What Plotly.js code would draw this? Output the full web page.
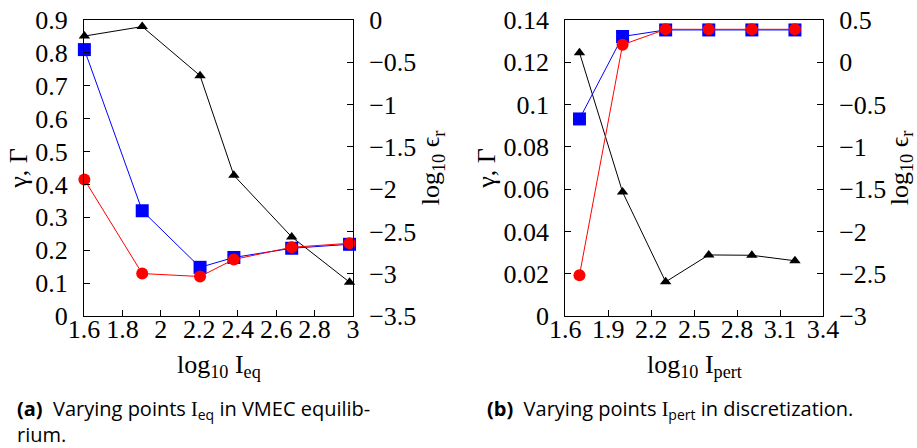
<!DOCTYPE html>
<html>
<head>
<meta charset="utf-8">
<script src="https://cdn.plot.ly/plotly-3.0.1.min.js"></script>
<style>html,body{margin:0;padding:0;background:#fff;}#chart{width:917px;height:448px;}</style>
</head>
<body>
<div id="chart"></div>
<script>
// Panel (a): varying I_eq
const xEq = [1.602, 1.903, 2.204, 2.380, 2.681, 2.982];
const gammaEq = [0.81, 0.32, 0.148, 0.178, 0.206, 0.218];   // blue squares
const GammaEq = [0.415, 0.129, 0.12, 0.172, 0.209, 0.221];  // red circles
const errEq = [-0.19, -0.078, -0.658, -1.837, -2.565, -3.10]; // black triangles (log10 eps_r)

// Panel (b): varying I_pert
const xPert = [1.699, 2.0, 2.301, 2.602, 2.903, 3.204];
const gammaPert = [0.0932, 0.1322, 0.1353, 0.1353, 0.1353, 0.1353];
const GammaPert = [0.0193, 0.1283, 0.1356, 0.1356, 0.1356, 0.1356];
const errPert = [0.114, -1.534, -2.596, -2.278, -2.282, -2.347];

const serif = '"Liberation Serif", "DejaVu Serif", serif';
const tickFont = {family: serif, size: 26, color: '#000'};
const titleFont = {family: serif, size: 26, color: '#000'};
const capFont = {family: '"Open Sans", Lato, sans-serif', size: 20, color: '#000'};

function blackTrace(x, y, xa, ya) {
  return {x: x, y: y, xaxis: xa, yaxis: ya, type: 'scatter', mode: 'lines+markers',
    line: {color: '#000', width: 1}, marker: {symbol: 'triangle-up', size: 10, color: '#000'},
    showlegend: false, cliponaxis: false};
}
function blueTrace(x, y, xa, ya) {
  return {x: x, y: y, xaxis: xa, yaxis: ya, type: 'scatter', mode: 'lines+markers',
    line: {color: '#0000ff', width: 1}, marker: {symbol: 'square', size: 13, color: '#0000ff'},
    showlegend: false, cliponaxis: false};
}
function redTrace(x, y, xa, ya) {
  return {x: x, y: y, xaxis: xa, yaxis: ya, type: 'scatter', mode: 'lines+markers',
    line: {color: '#ff0000', width: 1}, marker: {symbol: 'circle', size: 12, color: '#ff0000'},
    showlegend: false, cliponaxis: false};
}

const data = [
  blackTrace(xEq, errEq, 'x', 'y'),
  blueTrace(xEq, gammaEq, 'x', 'y2'),
  redTrace(xEq, GammaEq, 'x', 'y2'),
  blackTrace(xPert, errPert, 'x2', 'y3'),
  blueTrace(xPert, gammaPert, 'x2', 'y4'),
  redTrace(xPert, GammaPert, 'x2', 'y4')
];

const W = 917, H = 448;
const yDom = [1 - 316 / H, 1 - 20 / H];
const common = {showgrid: false, zeroline: false, showline: true, linecolor: '#000', linewidth: 1,
  ticks: 'inside', ticklen: 6, tickwidth: 1, tickcolor: '#000', tickfont: tickFont, tickangle: 0,
  fixedrange: true};

const layout = {
  width: W, height: H,
  margin: {l: 0, r: 0, t: 0, b: 0},
  paper_bgcolor: '#fff', plot_bgcolor: '#fff',
  showlegend: false,
  xaxis: Object.assign({}, common, {domain: [84 / W, 353 / W], range: [1.6, 3], tick0: 1.6, dtick: 0.2,
    anchor: 'y', mirror: true, ticklabelstandoff: -10}),
  yaxis: Object.assign({}, common, {domain: yDom, range: [-3.5, 0], dtick: 0.5, side: 'right', anchor: 'x',
    ticklabelstandoff: 10,
    title: {text: 'log<sub>10</sub> ϵ<sub>r</sub>', font: titleFont, standoff: 3}}),
  yaxis2: Object.assign({}, common, {range: [0, 0.9], dtick: 0.1, side: 'left', overlaying: 'y', anchor: 'x',
    ticklabelstandoff: 10,
    title: {text: 'γ, Γ', font: titleFont, standoff: 0}}),
  xaxis2: Object.assign({}, common, {domain: [565.3 / W, 823 / W], range: [1.6, 3.4], tick0: 1.6, dtick: 0.3,
    anchor: 'y3', mirror: true, ticklabelstandoff: -10}),
  yaxis3: Object.assign({}, common, {domain: yDom, range: [-3, 0.5], dtick: 0.5, side: 'right', anchor: 'x2',
    ticklabelstandoff: 10,
    title: {text: 'log<sub>10</sub> ϵ<sub>r</sub>', font: titleFont, standoff: 0}}),
  yaxis4: Object.assign({}, common, {range: [0, 0.14], dtick: 0.02, side: 'left', overlaying: 'y3', anchor: 'x2',
    ticklabelstandoff: 10,
    title: {text: 'γ, Γ', font: titleFont, standoff: 0}}),
  annotations: [
    {xref: 'paper', yref: 'paper', x: 218.5 / W, y: 1 - 366 / H, xanchor: 'center', yanchor: 'middle',
     showarrow: false, font: titleFont, text: 'log<sub>10</sub> I<sub>eq</sub>'},
    {xref: 'paper', yref: 'paper', x: 694 / W, y: 1 - 366 / H, xanchor: 'center', yanchor: 'middle',
     showarrow: false, font: titleFont, text: 'log<sub>10</sub> I<sub>pert</sub>'},
    {xref: 'paper', yref: 'paper', x: 15 / W, y: 1 - 393 / H, xanchor: 'left', yanchor: 'top', align: 'left',
     showarrow: false, font: capFont,
     text: '<b>(a)</b>\u00a0\u00a0Varying points <span style="font-family:Liberation Serif">I</span><sub>eq</sub> in VMEC equilib-<br>rium.'},
    {xref: 'paper', yref: 'paper', x: 485 / W, y: 1 - 393 / H, xanchor: 'left', yanchor: 'top', align: 'left',
     showarrow: false, font: capFont,
     text: '<b>(b)</b>\u00a0\u00a0Varying points <span style="font-family:Liberation Serif">I</span><sub>pert</sub> in discretization.'}
  ]
};

Plotly.newPlot('chart', data, layout, {staticPlot: true, displayModeBar: false});
</script>
</body>
</html>
